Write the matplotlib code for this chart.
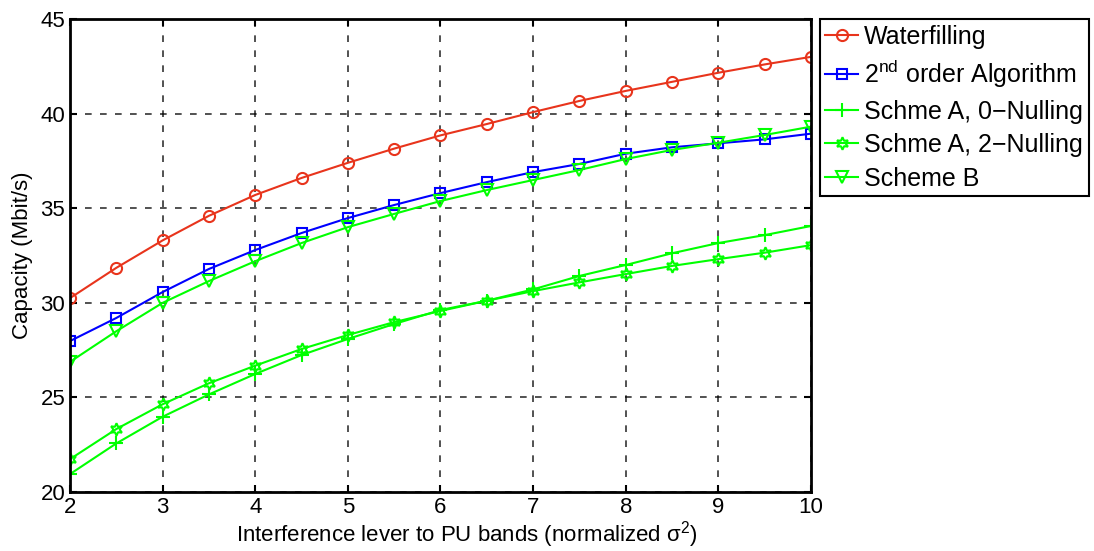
import numpy as np
import matplotlib.pyplot as plt

plt.rcParams['font.family'] = ['Liberation Sans', 'DejaVu Sans']
plt.rcParams['mathtext.fontset'] = 'custom'
plt.rcParams['mathtext.rm'] = 'Liberation Sans'

# datos
x = [2, 2.5, 3, 3.5, 4, 4.5, 5, 5.5, 6, 6.5, 7, 7.5, 8, 8.5, 9, 9.5, 10]
waterfilling = [30.25, 31.85, 33.3, 34.6, 35.7, 36.6, 37.4, 38.15, 38.85, 39.45,
                40.08, 40.67, 41.2, 41.68, 42.16, 42.6, 43.0]
second_order = [27.98, 29.2, 30.57, 31.79, 32.79, 33.69, 34.48, 35.17, 35.8, 36.38,
                36.91, 37.34, 37.88, 38.22, 38.43, 38.64, 38.94]
scheme_a0 = [20.95, 22.57, 23.98, 25.16, 26.24, 27.24, 28.09, 28.88, 29.62, 30.11,
             30.71, 31.42, 32.0, 32.62, 33.16, 33.58, 34.06]
scheme_a2 = [21.74, 23.33, 24.64, 25.75, 26.68, 27.56, 28.3, 28.98, 29.57, 30.11,
             30.62, 31.08, 31.52, 31.95, 32.31, 32.65, 33.05]
scheme_b = [26.88, 28.5, 30.0, 31.15, 32.2, 33.16, 34.0, 34.7, 35.38, 35.96,
            36.49, 37.02, 37.6, 38.08, 38.46, 38.87, 39.31]

labels = ['Waterfilling', '2$^{\\rm nd}$ order Algorithm', 'Schme A, 0\u2212Nulling',
          'Schme A, 2\u2212Nulling', 'Scheme B']

fig = plt.figure(figsize=(10.94, 5.51), dpi=100)
ax = fig.add_axes([0.064, 0.107, 0.6773, 0.8585])

red = '#e8341c'
green = '#00ff00'
ax.plot(x, waterfilling, '-o', color=red, mfc='none', ms=8, mew=1.5, lw=1.5, label=labels[0])
ax.plot(x, second_order, '-s', color='#0000ff', mfc='none', ms=7, mew=1.5, lw=1.5, label=labels[1])
ax.plot(x, scheme_a0, '-+', color=green, ms=10, mew=1.5, lw=1.5, label=labels[2])
ax.plot(x, scheme_a2, '-', marker=(6, 1, 0), color=green, mfc='none', ms=9, mew=1.5, lw=1.5, label=labels[3])
ax.plot(x, scheme_b, '-v', color=green, mfc='none', ms=8, mew=1.5, lw=1.5, label=labels[4])

ax.set_xlim(2, 10)
ax.set_ylim(20, 45)
ax.set_xticks(range(2, 11))
ax.set_yticks(range(20, 46, 5))
ax.grid(True, color='black', linestyle=(0, (4, 5)), linewidth=1.2, alpha=0.8)
ax.tick_params(direction='in', top=True, right=True, labelsize=16, length=5, width=1.5)
for s in ax.spines.values():
    s.set_linewidth(2)

ax.set_xlabel('Interference lever to PU bands (normalized \u03c3$^2$)', fontsize=16, labelpad=1, x=0.535)
ax.set_ylabel('Capacity (Mbit/s)', fontsize=16, labelpad=5)

leg = fig.legend(loc='upper left', bbox_to_anchor=(0.7495, 0.9655), fontsize=18,
                 handlelength=1.3, handletextpad=0.25, borderpad=0.22, labelspacing=0.38,
                 fancybox=False, edgecolor='black', framealpha=1, borderaxespad=0)
leg.get_frame().set_linewidth(1.5)

fig.savefig('out.png', dpi=100)
